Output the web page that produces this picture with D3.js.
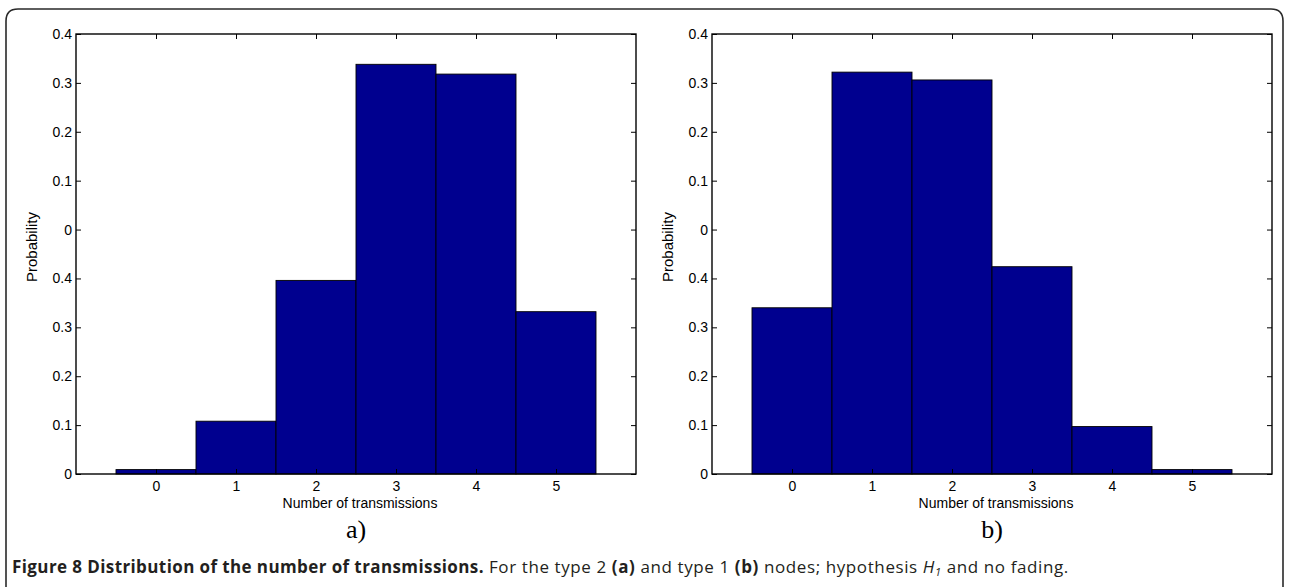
<!DOCTYPE html>
<html>
<head>
<meta charset="utf-8">
<script src="https://cdn.jsdelivr.net/npm/d3@7"></script>
<style>
  html, body { margin: 0; padding: 0; background: #fff; }
  svg { display: block; }
</style>
</head>
<body>
<svg id="chart" width="1289" height="587"></svg>
<script>
// ---- data ----
const categories = [0, 1, 2, 3, 4, 5];
const valuesA = [0.009, 0.108, 0.396, 0.838, 0.818, 0.332];
const valuesB = [0.340, 0.822, 0.806, 0.424, 0.097, 0.009];
const yTickValues = [0, 0.1, 0.2, 0.3, 0.4, 0.5, 0.6, 0.7, 0.8, 0.9];
const yTickLabels = ["0", "0.1", "0.2", "0.3", "0.4", "0", "0.1", "0.2", "0.3", "0.4"];
const xDomain = [-1, 6];
const yDomain = [0, 0.9];
const panelLetters = ["a)", "b)"];
const xLabel = "Number of transmissions";
const yLabel = "Probability";

(function () {
const svg = d3.select("#chart");

// outer frame
svg.append("path")
  .attr("d", "M6,600 L6,21 Q6,9 18,9 L1271,9 Q1283,9 1283,21 L1283,600")
  .attr("fill", "none").attr("stroke", "#2a2a2a").attr("stroke-width", 1.6);

const panels = [
  { left: 76, values: valuesA, letter: panelLetters[0] },
  { left: 712, values: valuesB, letter: panelLetters[1] }
];
const plotTop = 34, plotBottom = 474, plotWidth = 560;
const barColor = "#00008f";
const tickLen = 5;
const font = "Arial, 'Liberation Sans', Helvetica, sans-serif";

panels.forEach(p => {
  const x = d3.scaleLinear().domain(xDomain).range([p.left, p.left + plotWidth]);
  const y = d3.scaleLinear().domain(yDomain).range([plotBottom, plotTop]);
  const g = svg.append("g");

  // bars
  g.selectAll("rect.bar").data(categories.map((c, i) => ({ c, v: p.values[i] })))
    .join("rect").attr("class", "bar")
    .attr("x", d => x(d.c - 0.5))
    .attr("width", d => x(d.c + 0.5) - x(d.c - 0.5))
    .attr("y", d => y(d.v))
    .attr("height", d => y(0) - y(d.v))
    .attr("fill", barColor)
    .attr("stroke", "#000").attr("stroke-width", 0.9);

  // axes
  const fmtY = (d, i) => yTickLabels[i];
  const axL = g.append("g").attr("transform", `translate(${p.left},0)`)
    .call(d3.axisLeft(y).tickValues(yTickValues).tickFormat(fmtY).tickSize(-tickLen).tickPadding(4));
  const axR = g.append("g").attr("transform", `translate(${p.left + plotWidth},0)`)
    .call(d3.axisRight(y).tickValues(yTickValues).tickFormat("").tickSize(-tickLen));
  const axB = g.append("g").attr("transform", `translate(0,${plotBottom})`)
    .call(d3.axisBottom(x).tickValues(categories).tickFormat(d3.format("d")).tickSize(-tickLen).tickPadding(7));
  const axT = g.append("g").attr("transform", `translate(0,${plotTop})`)
    .call(d3.axisTop(x).tickValues(categories).tickFormat("").tickSize(-tickLen));

  [axL, axR, axB, axT].forEach(a => {
    a.select(".domain").remove();
    a.selectAll(".tick line").attr("stroke", "#000").attr("stroke-width", 1);
    a.selectAll("text").attr("font-family", font).attr("font-size", 14).attr("fill", "#000");
  });

  // box
  g.append("rect").attr("x", p.left).attr("y", plotTop).attr("width", plotWidth).attr("height", plotBottom - plotTop)
    .attr("fill", "none").attr("stroke", "#000").attr("stroke-width", 1.4);

  // axis labels
  g.append("text").attr("x", p.left + plotWidth / 2 + 4).attr("y", plotBottom + 34)
    .attr("text-anchor", "middle").attr("font-family", font).attr("font-size", 14)
    .text(xLabel);
  g.append("text")
    .attr("transform", `translate(${p.left - 39},${(plotTop + plotBottom) / 2 - 7}) rotate(-90)`)
    .attr("text-anchor", "middle").attr("font-family", font).attr("font-size", 15)
    .text(yLabel);

  // panel letter
  g.append("text").attr("x", p.left + plotWidth / 2).attr("y", plotBottom + 64)
    .attr("text-anchor", "middle").attr("font-family", "'Liberation Serif', 'Times New Roman', serif")
    .attr("font-size", 26).text(p.letter);
});

// caption
const cap = svg.append("text").attr("x", 12).attr("y", 573)
  .attr("font-family", "'Open Sans', 'Noto Sans', sans-serif").attr("font-size", 17).attr("fill", "#231f20")
  .attr("letter-spacing", 0.6);
cap.append("tspan").attr("font-weight", "bold").attr("letter-spacing", 0.4).text("Figure 8 Distribution of the number of transmissions.");
cap.append("tspan").text(" For the type 2 ");
cap.append("tspan").attr("font-weight", "bold").text("(a)");
cap.append("tspan").text(" and type 1 ");
cap.append("tspan").attr("font-weight", "bold").text("(b)");
cap.append("tspan").text(" nodes; hypothesis ");
cap.append("tspan").attr("font-style", "italic").text("H");
cap.append("tspan").attr("font-style", "italic").attr("font-size", 11).attr("dy", 3).text("1");
cap.append("tspan").attr("dy", -3).text(" and no fading.");
})();
</script>
</body>
</html>
